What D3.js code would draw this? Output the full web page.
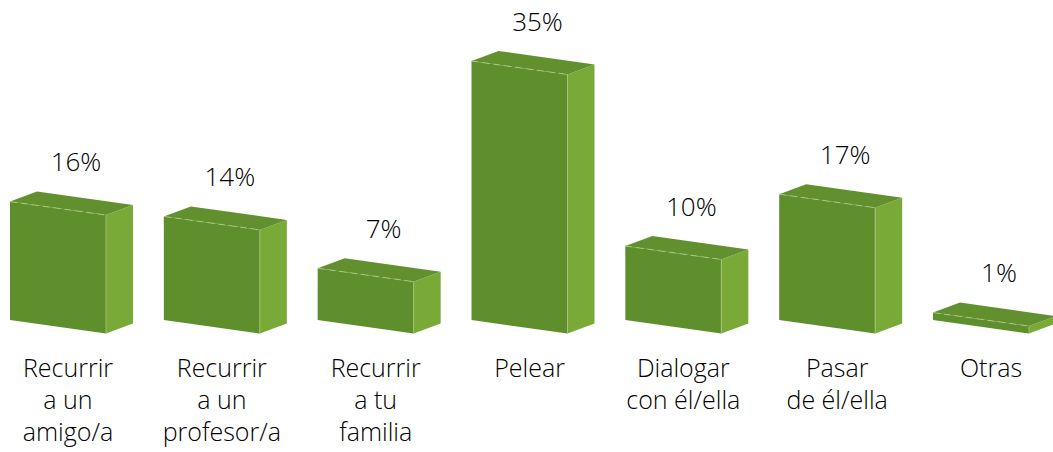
<!DOCTYPE html>
<html>
<head>
<meta charset="utf-8">
<script src="https://cdn.jsdelivr.net/npm/d3@7"></script>
<style>
  body { margin: 0; background: #fff; }
  text { font-family: "Open Sans", Lato, sans-serif; font-weight: 300; fill: #000; }
</style>
</head>
<body>
<div id="chart"></div>
<script>
// Chart data
const categories = ["Recurrir a un amigo/a", "Recurrir a un profesor/a", "Recurrir a tu familia",
                    "Pelear", "Dialogar con él/ella", "Pasar de él/ella", "Otras"];
const labelLines = [["Recurrir", "a un", "amigo/a"], ["Recurrir", "a un", "profesor/a"],
                    ["Recurrir", "a tu", "familia"], ["Pelear"], ["Dialogar", "con él/ella"],
                    ["Pasar", "de él/ella"], ["Otras"]];
const values = [16, 14, 7, 35, 10, 17, 1];

const width = 1053, height = 452;
const base = 320;          // front bottom-left y
const barW = 96;           // front face width
const slant = 13.5;        // front face drops to the right
const depth = {dx: 27, dy: -10};

const svg = d3.select("#chart").append("svg")
    .attr("width", width)
    .attr("height", height);

// Scales: x gives the front-left corner of each box
const x = d3.scalePoint()
    .domain(categories)
    .range([10, 933]);

const y = d3.scaleLinear()
    .domain([0, 35])
    .range([base, 61]);

const data = categories.map((c, i) => ({cat: c, value: values[i], lines: labelLines[i]}));

const pts = p => p.map(q => q.join(",")).join(" ");

const bars = svg.selectAll(".bar")
    .data(data)
    .enter().append("g")
    .attr("class", "bar");

// front face
bars.append("polygon")
    .attr("fill", "#5f8e2c")
    .attr("points", d => {
        const x0 = x(d.cat), t = y(d.value);
        return pts([[x0, t], [x0 + barW, t + slant], [x0 + barW, base + slant], [x0, base]]);
    });

// side face
bars.append("polygon")
    .attr("fill", "#79aa38")
    .attr("points", d => {
        const x0 = x(d.cat) + barW, t = y(d.value) + slant;
        return pts([[x0, t], [x0 + depth.dx, t + depth.dy],
                    [x0 + depth.dx, base + slant + depth.dy], [x0, base + slant]]);
    });

// top face
bars.append("polygon")
    .attr("fill", "#62902e")
    .attr("points", d => {
        const x0 = x(d.cat), t = y(d.value);
        return pts([[x0, t], [x0 + depth.dx, t + depth.dy],
                    [x0 + barW + depth.dx, t + slant + depth.dy], [x0 + barW, t + slant]]);
    });

// light edges
bars.append("line")
    .attr("stroke", "#a9c77a")
    .attr("stroke-width", 0.8)
    .attr("x1", d => x(d.cat) + barW).attr("x2", d => x(d.cat) + barW)
    .attr("y1", d => y(d.value) + slant).attr("y2", base + slant);

bars.append("line")
    .attr("stroke", "#b4d08c")
    .attr("stroke-width", 0.8)
    .attr("stroke-dasharray", "7,4")
    .attr("x1", d => x(d.cat)).attr("x2", d => x(d.cat) + barW)
    .attr("y1", d => y(d.value)).attr("y2", d => y(d.value) + slant);

// value labels
bars.append("text")
    .attr("x", d => x(d.cat) + 66)
    .attr("y", d => y(d.value) - 30.5)
    .attr("text-anchor", "middle")
    .style("font-size", "26px")
    .text(d => d.value + "%");

// category labels
bars.append("text")
    .attr("text-anchor", "middle")
    .style("font-size", "25px")
    .selectAll("tspan")
    .data(d => d.lines.map(l => ({l: l, cx: x(d.cat) + 58})))
    .enter().append("tspan")
    .attr("x", t => t.cx)
    .attr("y", (t, i) => 377 + i * 32)
    .text(t => t.l);
</script>
</body>
</html>
